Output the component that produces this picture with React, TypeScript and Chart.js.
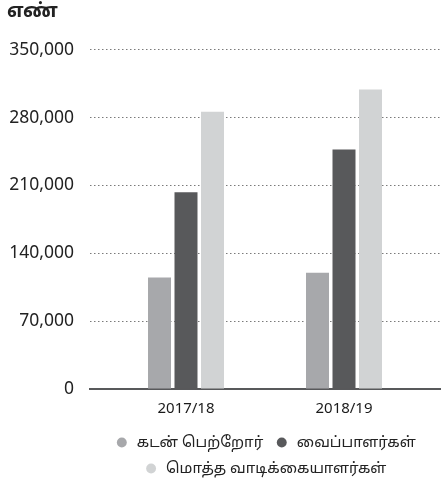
import React, { useEffect, useRef } from "react";
import { Chart, registerables } from "chart.js";

Chart.register(...registerables);

const categories = ["2017/18", "2018/19"];
const seriesNames = ["கடன் பெற்றோர்", "வைப்பாளர்கள்", "மொத்த வாடிக்கையாளர்கள்"];
const borrowers = [115000, 120000];
const depositors = [203000, 247000];
const totalCustomers = [286000, 309000];
const seriesColors = ["#a7a8ab", "#58595b", "#d1d3d4"];
const yTicks = [0, 70000, 140000, 210000, 280000, 350000];
const yTitle = "எண்";

const FONT = "'Noto Sans', 'Noto Sans Tamil', sans-serif";

export default function App() {
  const ref = useRef<HTMLCanvasElement | null>(null);

  useEffect(() => {
    document.body.style.margin = "0";
    document.body.style.overflow = "hidden";
    const canvas = ref.current;
    if (!canvas) return;
    const series = [borrowers, depositors, totalCustomers];
    const chart = new Chart(canvas, {
      type: "bar",
      data: {
        datasets: series.map((vals, i) => ({
          label: seriesNames[i],
          data: vals.map((v, j) => ({ x: j, y: v })),
          backgroundColor: seriesColors[i],
          borderWidth: 0,
          categoryPercentage: 0.503,
          barPercentage: 0.868,
        })),
      },
      options: {
        animation: false,
        responsive: true,
        maintainAspectRatio: false,
        layout: { padding: { left: 7, right: 1, top: 0, bottom: 0 } },
        plugins: {
          tooltip: { enabled: false },
          title: {
            display: true,
            text: yTitle,
            align: "start",
            color: "#222",
            font: { family: FONT, size: 19, weight: "bold" },
            padding: { top: 0, bottom: 27 },
          },
          legend: {
            display: true,
            position: "bottom",
            fullSize: false,
            labels: {
              usePointStyle: true,
              pointStyle: "circle",
              boxWidth: 15,
              boxHeight: 7,
              padding: 11,
              color: "#222",
              font: { family: FONT, size: 15 },
            },
          },
        },
        scales: {
          x: {
            type: "linear",
            offset: false,
            min: -0.6076,
            max: 1.6076,
            afterBuildTicks: (scale: any) => {
              scale.ticks = categories.map((_, i) => ({ value: i }));
            },
            afterFit: (scale: any) => {
              scale.height = 35;
            },
            ticks: {
              callback: (v: any) => categories[Number(v)] ?? "",
              color: "#1a1a1a",
              font: { family: FONT, size: 15 },
              padding: 11,
              autoSkip: false,
              maxRotation: 0,
            },
            grid: { display: false, drawTicks: false },
            border: { display: true, color: "#58595b", width: 2 },
          },
          y: {
            min: 0,
            max: 350000,
            afterBuildTicks: (scale: any) => {
              scale.ticks = yTicks.map((v) => ({ value: v }));
            },
            afterFit: (scale: any) => {
              scale.width = 83;
            },
            ticks: {
              callback: (v: any) => Number(v).toLocaleString("en-US"),
              color: "#222",
              font: { family: FONT, size: 17.5 },
              padding: 16,
            },
            grid: {
              drawTicks: false,
              color: "#7a7a7a",
              lineWidth: 1,
            },
            border: { display: false, dash: [1.5, 2.5] },
          },
        },
      },
    });
    return () => chart.destroy();
  }, []);

  return (
    <div style={{ width: 441, height: 482, overflow: "hidden" }}>
      <div style={{ position: "relative", width: 441, height: 486 }}>
        <canvas ref={ref} />
      </div>
    </div>
  );
}
